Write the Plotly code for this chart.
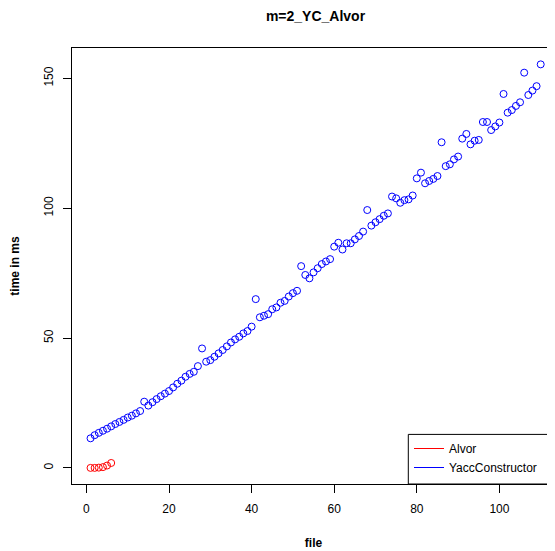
import plotly.graph_objects as go

# ---- data ----
alvor_file = [1, 2, 3, 4, 5, 6]
alvor_ms = [0.0, 0.0, 0.1, 0.3, 0.9, 1.9]

yc_file = list(range(1, 111))
yc_ms = [
    11.4, 12.6, 13.5, 14.3, 15.1, 16.0, 16.9, 17.7, 18.5, 19.4,
    20.1, 21.0, 21.9, 25.5, 24.0, 25.3, 26.5, 27.6, 28.6, 29.6,
    31.0, 32.4, 33.6, 35.1, 36.2, 37.0, 39.2, 46.0, 40.9, 41.5,
    42.8, 44.1, 45.4, 46.8, 48.3, 49.5, 50.5, 51.8, 52.7, 54.4,
    65.0, 58.0, 58.6, 59.2, 61.1, 61.8, 63.6, 64.3, 66.0, 67.3,
    68.2, 77.7, 74.3, 73.0, 75.3, 76.9, 78.5, 79.5, 80.4, 85.2,
    86.7, 84.1, 86.5, 86.5, 88.0, 89.3, 91.0, 99.3, 93.3, 94.6,
    95.8, 97.1, 98.0, 104.5, 103.8, 102.1, 103.1, 103.4, 104.9, 111.5,
    113.7, 109.6, 110.5, 111.3, 112.4, 125.4, 116.2, 116.9, 118.8, 119.9,
    126.8, 128.6, 124.6, 126.0, 126.3, 133.2, 133.2, 130.1, 131.5, 133.0,
    144.0, 136.8, 137.8, 139.4, 140.8, 152.2, 143.6, 145.3, 147.0, 155.4,
]

x_ticks = [0, 20, 40, 60, 80, 100]
y_ticks = [0, 50, 100, 150]

title_text = "m=2_YC_Alvor"
x_title = "file"
y_title = "time in ms"

# ---- layout geometry (pixels) ----
# the page body has an 8px default margin, so the figure is drawn 8px
# smaller and every screen position is shifted by OFF
OFF = 8
W, H = 555 - OFF, 551 - OFF
L, R, T, B = 64, 0, 40, 67
PW, PH = W - L - R, H - T - B


def px_x(screen_px):
    return (screen_px - OFF - L) / PW


def px_y(screen_px):
    return (H - B - (screen_px - OFF)) / PH


FONT = "Liberation Sans, Arial, Helvetica, sans-serif"

fig = go.Figure()

fig.add_trace(go.Scatter(
    x=yc_file, y=yc_ms, mode="markers", showlegend=False,
    marker=dict(symbol="circle-open", size=7, color="#0000FF",
                line=dict(width=1, color="#0000FF")),
))
fig.add_trace(go.Scatter(
    x=alvor_file, y=alvor_ms, mode="markers", showlegend=False,
    marker=dict(symbol="circle-open", size=7, color="#FF0000",
                line=dict(width=1, color="#FF0000")),
))
# legend entries (line samples, as in the original)
fig.add_trace(go.Scatter(x=[None], y=[None], mode="lines", name="Alvor",
                         line=dict(color="#FF0000", width=1)))
fig.add_trace(go.Scatter(x=[None], y=[None], mode="lines", name="YaccConstructor",
                         line=dict(color="#0000FF", width=1)))

fig.update_layout(
    width=W, height=H,
    margin=dict(l=L, r=R, t=T, b=B, pad=0),
    paper_bgcolor="white", plot_bgcolor="white",
    font=dict(family=FONT, size=12, color="black"),
    title=dict(text="<b>" + title_text + "</b>", x=(315.5 - OFF) / W, xref="container",
               xanchor="center", y=1 - (16 - OFF) / H, yref="container", yanchor="middle",
               font=dict(size=14, family=FONT, color="black")),
    xaxis=dict(range=[-3.49, 113.46], tickvals=x_ticks, ticktext=[str(v) for v in x_ticks],
               showgrid=False, zeroline=False, showline=True, mirror=True,
               linecolor="black", linewidth=1, ticks="outside", ticklen=8,
               tickcolor="black", tickwidth=1, ticklabelstandoff=6,
               tickfont=dict(size=12, family=FONT, color="black"),
               title=dict(text="<b>" + x_title + "</b>", standoff=23,
                          font=dict(size=12, family=FONT, color="black"))),
    yaxis=dict(range=[-6.2, 161.7], tickvals=y_ticks, ticktext=[str(v) for v in y_ticks],
               showgrid=False, zeroline=False, showline=True, mirror=False,
               linecolor="black", linewidth=1, ticks="outside", ticklen=8,
               tickcolor="black", tickwidth=1, tickangle=-90, ticklabelstandoff=5,
               tickfont=dict(size=12, family=FONT, color="black"),
               title=dict(text="<b>" + y_title + "</b>", standoff=25,
                          font=dict(size=12, family=FONT, color="black"))),
    legend=dict(x=px_x(409), y=px_y(434), xanchor="left", yanchor="top",
                bgcolor="rgba(0,0,0,0)", borderwidth=0,
                font=dict(size=12, family=FONT, color="black"),
                itemclick=False, itemdoubleclick=False),
    shapes=[dict(type="rect", xref="paper", yref="paper",
                 x0=px_x(408.3), x1=px_x(640), y0=px_y(484), y1=px_y(434.4),
                 line=dict(color="black", width=1), fillcolor="rgba(0,0,0,0)",
                 layer="above")],
)

fig.write_html("out.html")
